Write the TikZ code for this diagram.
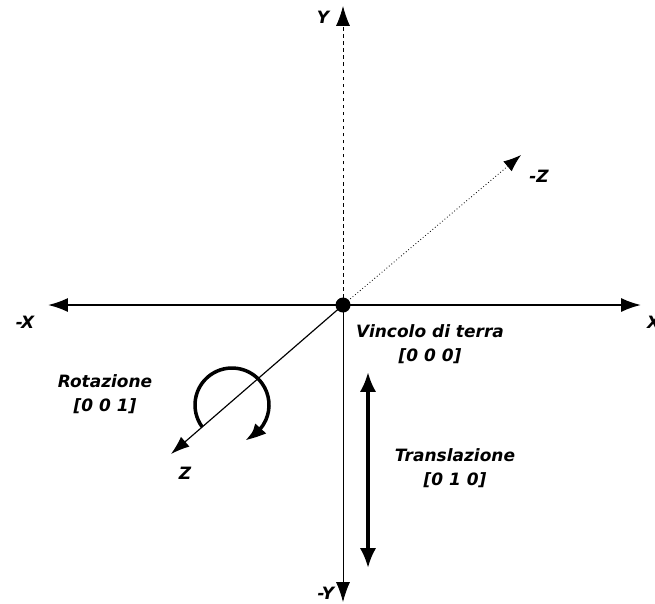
\documentclass[tikz,border=0pt]{standalone}
\usepackage{fontspec}
\setmainfont{DejaVu Sans}
\usetikzlibrary{arrows.meta,bending}

\tikzset{
  axis/.style={line width=1.6pt, -{Latex[length=17pt,width=12pt]}},
  lbl/.style={font=\fontsize{14.5}{17}\selectfont\bfseries\itshape, align=center, inner sep=0pt},
  motion/.style={line width=3pt},
}

\begin{document}
\begin{tikzpicture}[x=0.03cm, y=-0.03cm]
  \useasboundingbox (0,0) rectangle (655,603);

  % --- axis ends (pixel grid of the sketch, y grows downward) ---
  \coordinate (O)    at (343,305);
  \coordinate (xneg) at (48,305);
  \coordinate (xpos) at (641,305);
  \coordinate (ytop) at (343,6);
  \coordinate (ybot) at (343,602);
  \coordinate (zpos) at (171,454);
  \coordinate (zneg) at (521,155);

  % --- axes ---
  \draw[axis] (O) -- (xneg);
  \draw[axis] (O) -- (xpos);
  \draw[axis, line width=0.7pt, dashed] (O) -- (ytop);
  \draw[axis, line width=0.7pt] (O) -- (ybot);
  \draw[axis, line width=1pt, -{Latex[length=16pt,width=11pt]}] (O) -- (zpos);
  \draw[axis, line width=0.7pt, dotted, -{Latex[length=15pt,width=11pt]}] (O) -- (zneg);

  % ground node
  \fill (O) circle[radius=7.5];

  % --- axis labels ---
  \node[lbl] (lxneg) at (25,322) {-X};
  \node[lbl, anchor=west] (lxpos) at (647,322) {X};
  \node[lbl] (lytop) at (323,17) {Y};
  \node[lbl] (lybot) at (326,593) {-Y};
  \node[lbl] (lzpos) at (185,473) {Z};
  \node[lbl] (lzneg) at (539,176) {-Z};

  % --- rotation about z (angles mirrored, y is flipped) ---
  \draw[motion, -{Latex[length=17pt,width=13pt,bend]}]
    (232,405) ++(144:37) arc[start angle=144, end angle=430, radius=37];
  \node[lbl] (rot) at (105,394) {Rotazione\\[3pt][0 0 1]};

  % --- translation along y ---
  \coordinate (ttop) at (368,372);
  \coordinate (tbot) at (368,568);
  \draw[motion, {Latex[length=17pt,width=14pt]}-{Latex[length=17pt,width=14pt]}] (ttop) -- (tbot);
  \node[lbl] (trans) at (455,468) {Translazione\\[3pt][0 1 0]};

  % --- ground constraint ---
  \node[lbl] (ground) at (430,344) {Vincolo di terra\\[3pt][0 0 0]};
\end{tikzpicture}
\end{document}
